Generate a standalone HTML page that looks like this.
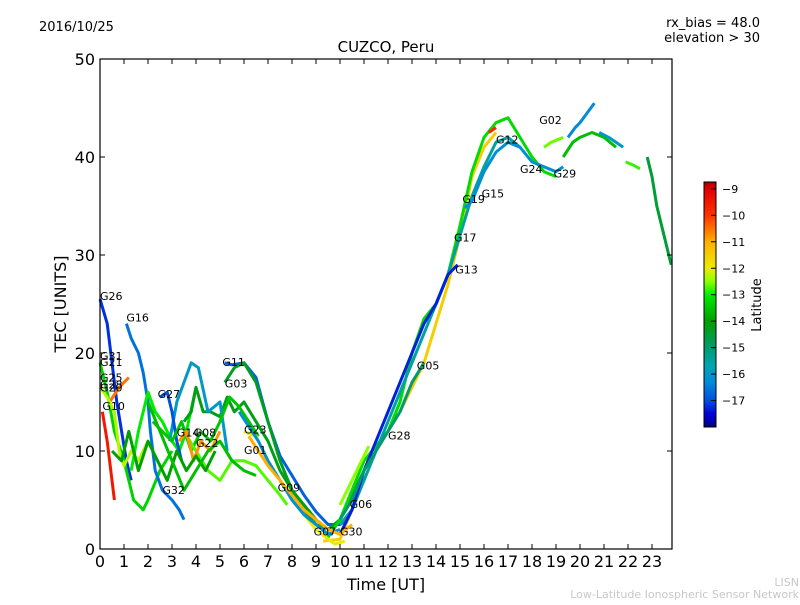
<!DOCTYPE html>
<html><head><meta charset="utf-8">
<style>
body{margin:0;background:#fff;}
svg text{font-family:"DejaVu Sans","Liberation Sans",sans-serif;}
</style></head>
<body>
<svg id="chart" width="800" height="600" viewBox="0 0 800 600" xmlns="http://www.w3.org/2000/svg">
<defs>
<linearGradient id="jetgrad" x1="0" y1="1" x2="0" y2="0"></linearGradient>
</defs>
<text x="39" y="31" font-size="13">2016/10/25</text>
<text x="760" y="27" font-size="13" text-anchor="end">rx_bias = 48.0</text>
<text x="760" y="42" font-size="13" text-anchor="end">elevation &gt; 30</text>
<text x="386" y="52" font-size="15" text-anchor="middle">CUZCO, Peru</text>
<text x="0" y="0" font-size="16" text-anchor="middle" transform="translate(66,304) rotate(-90)">TEC [UNITS]</text>
<text x="386" y="590" font-size="16" text-anchor="middle">Time [UT]</text>
<text x="799" y="586" font-size="11" fill="#c8c8c8" text-anchor="end">LISN</text>
<text x="799" y="598" font-size="11" fill="#c8c8c8" text-anchor="end">Low-Latitude Ionospheric Sensor Network</text>
<g id="marks"></g>
<g id="labels"></g>
<rect x="100" y="59" width="572" height="490" fill="none" stroke="#000" stroke-width="1.2"/>
<g id="axes"></g>
<rect x="704" y="182" width="12" height="245" fill="url(#jetgrad)" stroke="#000" stroke-width="1"/>
<g id="cbticks"></g>
<text x="0" y="0" font-size="13" text-anchor="middle" transform="translate(761,305) rotate(-90)">Latitude</text>
</svg>
<script>
const xTicks=[0,1,2,3,4,5,6,7,8,9,10,11,12,13,14,15,16,17,18,19,20,21,22,23];
const yTicks=[0,10,20,30,40,50];
const cbTicks=[-9,-10,-11,-12,-13,-14,-15,-16,-17];
const trackLats=[-16.8,-14.3,-11.5,-13.2,-15.5,-17.3,-16.2,-12.6,-16.3,-13.6,-16.0,-12.8,-14.5,-17.2,-13.3,-16.6,-13.0,-9.5,-10.5,-12.3,-14.2,-16.0,-17.0,-13.5,-12.7,-12.0,-10.8,-14.0,-13.6,-16.2,-11.0,-15.0,-12.5,-9.8];
const trackTimes=[
[5.2,5.5,6,6.5,7,7.5,8,8.5,9,9.5,10,10.3],
[5.2,5.6,6,6.5,7,7.5,8,8.5,9,9.5,10,10.5,11],
[9.3,10,10.5,11,11.5,12,12.5,13,13.5,14,14.5,15,15.5,16,16.5],
[9.5,10,10.5,11,11.5,12,12.5,13,13.5,14,14.5,15,15.5,16,16.5,17,17.5,18,18.5,19],
[10,10.5,11,11.5,12,12.5,13,13.5,14,14.5,15,15.5,16,16.5,17,17.5],
[10,10.5,11,11.5,12,12.5,13,13.5,14,14.5,14.9],
[15.2,15.5,16,16.5,17,17.5,18,18.5,19,19.3],
[18.5,18.8,19.3],
[19.5,19.8,20,20.3,20.6],
[19.3,19.7,20,20.5,21,21.5],
[20.8,21.2,21.5,21.8],
[21.9,22.2,22.5],
[22.8,23,23.2,23.5,23.8],
[0,0.3,0.5,0.7,0.9,1.1,1.3],
[0,0.3,0.6,1,1.4,1.8,2,2.5,3],
[1.1,1.3,1.6,1.8,2,2.1,2.3,2.6,3,3.3,3.5],
[1.3,1.6,2,2.3,2.6,3,3.3,3.6,4],
[0.1,0.3,0.5,0.6],
[0.4,0.8,1.2],
[0,0.3,0.6,0.8,1,1.3,1.6,2],
[3.5,3.8,4,4.3,4.6,5,5.3,5.6,6,6.5,7,7.5,8,8.5,9,9.5],
[2.9,3.2,3.5,3.8,4.1,4.5,5,5.3],
[2.5,2.8,3.0,3.2,3.4],
[2.2,2.6,3,3.4,3.8,4.2,4.6,5,5.4,5.8,6.2,6.6],
[3.5,4,4.5,5,5.5,6,6.5,7,7.5,7.8],
[6,6.5,7,7.5,8,8.5,9,9.5,9.8,10.2],
[3.3,3.6,3.9,4.2,4.6,5],
[0.5,0.9,1.2,1.6,2,2.4,2.8,3.2,3.6,4,4.4,4.8],
[2.0,2.5,3.0,3.5,4,4.5,5,5.5,6,6.5],
[5.8,6.2,6.6,7,7.5,8,8.5,9,9.5,10],
[6.2,6.6,7,7.5,8,8.5,9,9.5,10,10.5],
[10,10.5,11,11.5,12,12.5,13,13.5],
[10,10.4,10.8,11.2],
[16.2,16.5]
];
const trackTec=[
[19,18.8,19,17.5,13,9.5,7.5,5.5,3.8,2.5,2.5,3],
[17,18.5,19,17,13,9,6,4,2.5,2,3,5.5,8],
[0.8,1,4,8,10,12,14,16.5,19,23,27,32,38,41,42.5],
[1.2,3,6,9,10.5,12,15,20,23.5,25,28,33,38.5,42,43.5,44,42,40,38.5,38],
[2.5,4,7,10,13,16,19,22,25,28,32,36,39,41.5,42,41],
[1.5,4,8,11,14,17,20,23,25,28,29],
[34.8,35.5,38.5,40.5,41.5,41,39.5,39,38.5,39],
[41,41.5,42],
[42,43,43.5,44.5,45.5],
[40,41.5,42,42.5,42,41],
[42.5,42,41.5,41],
[39.5,39.2,38.8],
[40,38,35,32,29],
[25.5,23,19,15,12,9,7],
[19,16,12,9,5,4,5,8,10],
[23,21.5,20,18,15,12,8,6,5,4,3],
[8,12,16,14,13,11,10,12,16.5],
[14,11,7,5],
[15,16.5,17.5],
[16.5,15.5,14,10,8.5,10,9,11],
[13,14,16.5,14,14,13.5,15.5,14,15,13,11,8,6,4.5,3,2],
[11,15,17,19,18.5,14,15,10],
[15.5,16,14,11,9],
[13,12,11,13,10,12,11,13,15.5,14.5,13,11.5],
[12,10,8,7,9,9,8.5,7,5.5,4.5],
[12,11.5,9,7,5,3.5,2,1,0.5,0.8],
[11,12,9,11,10,12],
[10,9,12,8,11,9,7,10,8,9.5,8,10],
[15,12,9,6,8,10,11,9,8,7.5],
[14,12.5,11,9,7,5,3.5,2.5,1.5,2],
[11.5,10,8.5,7,5.5,4,3,2,1.5,2.5],
[3,5,8,10,12,14,17,19],
[4.5,6.5,8.5,10.5],
[42.5,43]
];
const labelNames=["G26","G16","G31","G21","G25","G28","G20","G10","G27","G14","G08","G22","G32","G11","G03","G23","G01","G09","G07","G30","G06","G28","G05","G13","G17","G19","G15","G12","G02","G24","G29"];
const labelTimes=[0,1.1,0,0,0,0,0,0.1,2.4,3.2,3.9,4.0,2.6,5.1,5.2,6.0,6.0,7.4,8.9,10.0,10.4,12.0,13.2,14.8,14.75,15.1,15.9,16.5,18.3,17.5,18.9];
const labelTecs=[25.8,23.6,19.7,19.1,17.5,16.8,16.5,14.6,15.8,11.9,11.9,10.8,6.0,19.1,16.9,12.2,10.1,6.3,1.8,1.8,4.6,11.6,18.7,28.5,31.8,35.7,36.3,41.8,43.8,38.8,38.3];

const NS="http://www.w3.org/2000/svg";
const X0=100,PXH=24,Y0=549,PXU=9.8;
function xs(t){return X0+t*PXH;}
function ys(v){return Y0-v*PXU;}
function cby(l){return 182+(l-(-8.74))/(-18-(-8.74))*245;}
// colormap stops matched to reference colorbar
const CM=[[-18,[0,0,130]],[-17.5,[0,0,220]],[-17,[0,80,225]],[-16.3,[0,140,215]],[-15.7,[0,165,180]],[-15,[0,155,110]],[-14,[0,160,0]],[-13,[0,235,0]],[-12.5,[140,255,0]],[-12,[235,235,0]],[-11,[255,175,0]],[-10,[255,50,0]],[-9,[225,0,0]],[-8.74,[160,0,0]]];
function cmap(lat){
 if(lat<=CM[0][0])return 'rgb('+CM[0][1]+')';
 for(let i=1;i<CM.length;i++){
  if(lat<=CM[i][0]){
   const f=(lat-CM[i-1][0])/(CM[i][0]-CM[i-1][0]);
   const c=CM[i-1][1].map((a,k)=>Math.round(a+(CM[i][1][k]-a)*f));
   return 'rgb('+c+')';
  }
 }
 return 'rgb('+CM[CM.length-1][1]+')';
}
const grad=document.getElementById('jetgrad');
CM.forEach(s=>{
 const st=document.createElementNS(NS,'stop');
 st.setAttribute('offset',((s[0]+18)/9.26).toFixed(3));
 st.setAttribute('stop-color','rgb('+s[1]+')');
 grad.appendChild(st);
});
const marks=document.getElementById('marks');
for(let i=0;i<trackTimes.length;i++){
 const p=document.createElementNS(NS,'polyline');
 
 
 p.setAttribute('points',trackTimes[i].map((t,j)=>xs(t)+','+ys(trackTec[i][j])).join(' '));
 p.setAttribute('fill','none');
 p.setAttribute('stroke',cmap(trackLats[i]));
 p.setAttribute('stroke-width','3');
 p.setAttribute('stroke-linejoin','round');
 marks.appendChild(p);
}
const lg=document.getElementById('labels');
for(let i=0;i<labelNames.length;i++){
 const t=document.createElementNS(NS,'text');
 
 
 t.setAttribute('x',xs(labelTimes[i]));
 t.setAttribute('y',ys(labelTecs[i])+4);
 t.setAttribute('font-size','11');
 t.textContent=labelNames[i];
 lg.appendChild(t);
}
const ax=document.getElementById('axes');
function line(x1,y1,x2,y2,name){
 const l=document.createElementNS(NS,'line');
 
 
 l.setAttribute('x1',x1);l.setAttribute('y1',y1);l.setAttribute('x2',x2);l.setAttribute('y2',y2);
 l.setAttribute('stroke','#000');l.setAttribute('stroke-width','1');
 return l;
}
function txt(x,y,s,anchor,size,name,parent){
 const t=document.createElementNS(NS,'text');
 
 
 t.setAttribute('x',x);t.setAttribute('y',y);t.setAttribute('font-size',size);
 t.setAttribute('text-anchor',anchor);t.textContent=s;parent.appendChild(t);
}
xTicks.forEach(v=>{
 const x=xs(v);
 ax.appendChild(line(x,549,x,544,'x-tick'));
 ax.appendChild(line(x,59,x,64,'x-tick-top'));
 txt(x,567,String(v),'middle',16,'x-tick-label',ax);
});
yTicks.forEach(v=>{
 const y=ys(v);
 ax.appendChild(line(100,y,105,y,'y-tick'));
 ax.appendChild(line(672,y,667,y,'y-tick-right'));
 txt(95,y+6,String(v),'end',16,'y-tick-label',ax);
});
const cbg=document.getElementById('cbticks');
cbTicks.forEach(v=>{
 const y=cby(v);
 cbg.appendChild(line(711,y,716,y,'colorbar-tick'));
 txt(722,y+4,'\u2212'+Math.abs(v),'start',11,'colorbar-tick-label',cbg);
});
</script>
</body></html>
